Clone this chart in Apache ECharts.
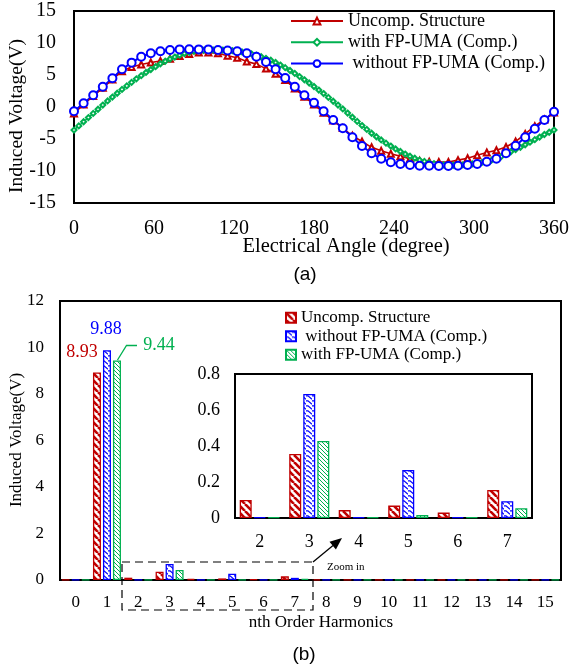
<!DOCTYPE html>
<html>
<head>
<meta charset="utf-8">
<script src="https://cdn.jsdelivr.net/npm/echarts@6/dist/echarts.min.js"></script>
<style>
  html, body { margin: 0; padding: 0; background: #fff; }
  #chart { width: 572px; height: 665px; }
</style>
</head>
<body>
<div id="chart"></div>
<script>
// ---- (a) induced voltage waveforms ----
// coarse curves sampled every 7.2 degrees, the fine one every 3.6 degrees
const coarseAngles = Array.from({ length: 51 }, (_, i) => +(i * 7.2).toFixed(1));
const fineAngles = Array.from({ length: 101 }, (_, i) => +(i * 3.6).toFixed(1));

const uncompWave = [
  -1.0, 0.4, 1.7, 3.0, 4.3, 5.6, 6.25, 6.65, 6.95, 7.2, 7.55, 7.95, 8.3,
  8.5, 8.5, 8.4, 8.0, 7.7, 7.1, 6.7, 6.0, 5.2, 4.2, 2.9, 1.6, 0.4,
  -0.9, -2.1, -3.3, -4.5, -5.4, -6.3, -6.85, -7.3, -7.7, -8.1, -8.4, -8.55,
  -8.6, -8.6, -8.3, -8.0, -7.55, -7.1, -6.75, -6.25, -5.4, -4.2, -3.0, -1.95, -0.85
];

const withoutUmaWave = [
  -0.67, 0.58, 1.83, 3.17, 4.48, 5.89, 6.93, 7.86, 8.39, 8.7, 8.9, 9.0, 9.02,
  9.0, 9.0, 8.92, 8.82, 8.7, 8.4, 7.86, 7.03, 5.89, 4.53, 3.17, 1.83, 0.65,
  -0.67, -2.03, -3.33, -4.73, -6.09, -7.23, -8.08, -8.64, -8.91, -9.06, -9.17, -9.18,
  -9.2, -9.2, -9.17, -9.06, -8.9, -8.55, -8.08, -7.23, -6.05, -4.73, -3.39, -2.03, -0.73
];

const withUmaWave = [
  -3.6, -2.95, -2.3, -1.65, -1.0, -0.35, 0.3, 0.95, 1.55, 2.15,
  2.75, 3.3, 3.85, 4.4, 4.9, 5.4, 5.85, 6.3, 6.75, 7.15,
  7.5, 7.8, 8.1, 8.35, 8.55, 8.7, 8.8, 8.85, 8.9, 8.9,
  8.9, 8.9, 8.85, 8.8, 8.7, 8.6, 8.45, 8.3, 8.1, 7.85,
  7.6, 7.3, 6.95, 6.55, 6.15, 5.7, 5.25, 4.75, 4.25, 3.75,
  3.2, 2.65, 2.1, 1.5, 0.9, 0.3, -0.3, -0.95, -1.6, -2.25,
  -2.9, -3.5, -4.1, -4.65, -5.15, -5.65, -6.1, -6.55, -6.95, -7.35,
  -7.7, -8.0, -8.3, -8.5, -8.7, -8.85, -8.95, -9.05, -9.1, -9.1,
  -9.1, -9.05, -9.0, -8.9, -8.8, -8.65, -8.45, -8.3, -8.05, -7.75,
  -7.4, -7.0, -6.65, -6.3, -5.9, -5.5, -5.1, -4.7, -4.3, -3.95,
  -3.6
];

const angleTicks = [0, 60, 120, 180, 240, 300, 360];

// ---- (b) harmonic spectrum ----
const harmonics = ['0','1','2','3','4','5','6','7','8','9','10','11','12','13','14','15'];
const uncompHarm  = [0.01, 8.93, 0.10, 0.356, 0.044, 0.069, 0.03, 0.156, 0.01, 0.01, 0.01, 0.01, 0.01, 0.01, 0.01, 0.01];
const withoutHarm = [0.01, 9.88, 0.004, 0.689, 0.004, 0.267, 0.004, 0.093, 0.01, 0.01, 0.01, 0.01, 0.01, 0.01, 0.01, 0.01];
const withHarm    = [0.01, 9.44, 0.004, 0.428, 0.004, 0.017, 0.004, 0.054, 0.01, 0.01, 0.01, 0.01, 0.01, 0.01, 0.01, 0.01];
const zoomFrom = 2, zoomTo = 8; // harmonics 2..7 shown in the inset

const RED = '#C00000', GREEN = '#00B050', BLUE = '#0000FF';
const SERIF = '"Liberation Serif", "Times New Roman", serif';
const SANS = '"Liberation Sans", Arial, sans-serif';

const NAMES = ['Uncomp. Structure', 'with FP-UMA (Comp.)', ' without FP-UMA (Comp.)'];
const BAR = 'bar:';

function pairs(xs, ys) { return xs.map((x, i) => [x, ys[i]]); }

// hatch fills for the bars
function diagPattern(color, size, width) {
  const c = document.createElement('canvas');
  c.width = c.height = size;
  const g = c.getContext('2d');
  g.fillStyle = '#fff'; g.fillRect(0, 0, size, size);
  g.strokeStyle = color; g.lineWidth = width;
  for (let k = -1; k <= 1; k++) {
    g.beginPath(); g.moveTo(k * size, 0); g.lineTo(k * size + size, size); g.stroke();
  }
  return { image: c, repeat: 'repeat' };
}
function zigzagPattern(color) {
  const w = 6, h = 5;
  const c = document.createElement('canvas');
  c.width = w; c.height = h;
  const g = c.getContext('2d');
  g.fillStyle = '#fff'; g.fillRect(0, 0, w, h);
  g.strokeStyle = color; g.lineWidth = 1.2;
  g.beginPath();
  g.moveTo(0, 0.8); g.lineTo(2, 0.8); g.lineTo(6, 4.2);
  g.stroke();
  g.beginPath(); g.moveTo(-2, 0.8); g.lineTo(0, 0.8); g.stroke();
  return { image: c, repeat: 'repeat' };
}
const redFill = diagPattern(RED, 7, 2.6);
const blueFill = zigzagPattern(BLUE);
const greenFill = diagPattern(GREEN, 4, 1);

const axisLine = { show: true, onZero: false, lineStyle: { color: '#000', width: 2 } };
const tickLabel = (size, margin) => ({ fontFamily: SERIF, fontSize: size, color: '#000', margin });

const chart = echarts.init(document.getElementById('chart'), null, { renderer: 'canvas' });

function barLabel(value, color, offset) {
  return {
    value,
    label: { show: true, position: 'top', offset, formatter: '{c}', color,
             fontFamily: SERIF, fontSize: 18 }
  };
}

const mainUncomp = uncompHarm.map((v, i) => i === 1 ? barLabel(v, RED, [-15, -6]) : v);
const mainWithout = withoutHarm.map((v, i) => i === 1 ? barLabel(v, BLUE, [-1, -7]) : v);
const mainWith = withHarm.map((v, i) => i === 1 ? barLabel(v, GREEN, [42, -1]) : v);

const option = {
  animation: false,
  backgroundColor: '#fff',
  grid: [
    { left: 74, top: 11, width: 481, height: 192, show: true, borderColor: '#000', borderWidth: 2, containLabel: false },
    { left: 60, top: 301, width: 501, height: 279, show: true, borderColor: '#000', borderWidth: 2, containLabel: false },
    { left: 235, top: 374, width: 297, height: 144, show: true, borderColor: '#000', borderWidth: 2,
      backgroundColor: '#fff', containLabel: false, z: 3 }
  ],
  xAxis: [
    { gridIndex: 0, type: 'value', min: angleTicks[0], max: angleTicks[angleTicks.length - 1], interval: 60,
      axisLine, axisTick: { show: false }, splitLine: { show: false }, axisLabel: tickLabel(20, 16) },
    { gridIndex: 1, type: 'category', data: harmonics,
      axisLine, axisTick: { show: false }, splitLine: { show: false }, axisLabel: tickLabel(17, 14) },
    { gridIndex: 2, type: 'category', data: harmonics.slice(zoomFrom, zoomTo), z: 3,
      axisLine, axisTick: { show: false }, splitLine: { show: false }, axisLabel: tickLabel(18, 15) }
  ],
  yAxis: [
    { gridIndex: 0, type: 'value', min: -15, max: 15, interval: 5,
      axisLine, axisTick: { show: false }, splitLine: { show: false }, axisLabel: tickLabel(20, 18) },
    { gridIndex: 1, type: 'value', min: 0, max: 12, interval: 2,
      axisLine, axisTick: { show: false }, splitLine: { show: false }, axisLabel: tickLabel(17, 16) },
    { gridIndex: 2, type: 'value', min: 0, max: 0.8, interval: 0.2, z: 3,
      axisLine, axisTick: { show: false }, splitLine: { show: false }, axisLabel: tickLabel(18, 15) }
  ],
  legend: [
    { orient: 'vertical', left: 290, top: 12, padding: 0, itemWidth: 52, itemHeight: 8.5, itemGap: 3.3,
      data: NAMES, textStyle: { fontFamily: SERIF, fontSize: 18, color: '#000', lineHeight: 18 } },
    { orient: 'vertical', left: 285, top: 309, padding: 0, itemWidth: 10, itemHeight: 10, itemGap: 1,
      icon: 'rect',
      data: [BAR + NAMES[0], BAR + NAMES[2], BAR + NAMES[1]],
      formatter: n => n.slice(BAR.length),
      textStyle: { fontFamily: SERIF, fontSize: 17, color: '#000', lineHeight: 17.5 } }
  ],
  series: [
    { type: 'line', name: NAMES[0], xAxisIndex: 0, yAxisIndex: 0, data: pairs(coarseAngles, uncompWave),
      symbol: 'emptyTriangle', symbolSize: 6, lineStyle: { color: RED, width: 1.6 },
      itemStyle: { color: RED, borderWidth: 1.2 } },
    { type: 'line', name: NAMES[1], xAxisIndex: 0, yAxisIndex: 0, data: pairs(fineAngles, withUmaWave),
      symbol: 'emptyDiamond', symbolSize: 5, lineStyle: { color: GREEN, width: 1.5 },
      itemStyle: { color: GREEN, borderWidth: 1.1 } },
    { type: 'line', name: NAMES[2], xAxisIndex: 0, yAxisIndex: 0, data: pairs(coarseAngles, withoutUmaWave),
      symbol: 'emptyCircle', symbolSize: 8, lineStyle: { color: BLUE, width: 2 },
      itemStyle: { color: BLUE, borderWidth: 2 } },

    { type: 'bar', name: BAR + NAMES[0], xAxisIndex: 1, yAxisIndex: 1, data: mainUncomp,
      barWidth: 8, barGap: '25%', itemStyle: { color: redFill, borderColor: RED, borderWidth: 1.3 } },
    { type: 'bar', name: BAR + NAMES[2], xAxisIndex: 1, yAxisIndex: 1, data: mainWithout,
      barWidth: 8, barGap: '25%', itemStyle: { color: blueFill, borderColor: BLUE, borderWidth: 1.3 } },
    { type: 'bar', name: BAR + NAMES[1], xAxisIndex: 1, yAxisIndex: 1, data: mainWith,
      barWidth: 8, barGap: '25%', itemStyle: { color: greenFill, borderColor: GREEN, borderWidth: 1.3 } },

    { type: 'bar', name: BAR + NAMES[0], xAxisIndex: 2, yAxisIndex: 2, z: 4,
      data: uncompHarm.slice(zoomFrom, zoomTo),
      barWidth: 12, barGap: '17%', itemStyle: { color: redFill, borderColor: RED, borderWidth: 1.3 } },
    { type: 'bar', name: BAR + NAMES[2], xAxisIndex: 2, yAxisIndex: 2, z: 4,
      data: withoutHarm.slice(zoomFrom, zoomTo),
      barWidth: 12, barGap: '17%', itemStyle: { color: blueFill, borderColor: BLUE, borderWidth: 1.3 } },
    { type: 'bar', name: BAR + NAMES[1], xAxisIndex: 2, yAxisIndex: 2, z: 4,
      data: withHarm.slice(zoomFrom, zoomTo),
      barWidth: 12, barGap: '17%', itemStyle: { color: greenFill, borderColor: GREEN, borderWidth: 1.3 } }
  ],
  graphic: [
    // axis titles and panel captions
    { type: 'text', x: 346, y: 247, style: { text: 'Electrical Angle (degree)', font: '20.5px ' + SERIF,
      fill: '#000', align: 'center', verticalAlign: 'middle' } },
    { type: 'text', x: 17, y: 116, rotation: Math.PI / 2, style: { text: 'Induced Voltage(V)', font: '19.5px ' + SERIF,
      fill: '#000', align: 'center', verticalAlign: 'middle' } },
    { type: 'text', x: 305, y: 275, style: { text: '(a)', font: '19px ' + SANS,
      fill: '#000', align: 'center', verticalAlign: 'middle' } },
    { type: 'text', x: 321, y: 623, style: { text: 'nth Order Harmonics', font: '17px ' + SERIF,
      fill: '#000', align: 'center', verticalAlign: 'middle' } },
    { type: 'text', x: 17, y: 440, rotation: Math.PI / 2, style: { text: 'Induced Voltage(V)', font: '17px ' + SERIF,
      fill: '#000', align: 'center', verticalAlign: 'middle' } },
    { type: 'text', x: 304, y: 655, style: { text: '(b)', font: '19px ' + SANS,
      fill: '#000', align: 'center', verticalAlign: 'middle' } },
    // leader for the 9.44 label
    { type: 'polyline', shape: { points: [[117.5, 360], [126.5, 345.5], [137, 345.5]] },
      style: { stroke: GREEN, lineWidth: 1.3, fill: null } },
    // zoom region marker
    { type: 'rect', shape: { x: 122, y: 562, width: 191, height: 48 },
      style: { fill: null, stroke: '#000', lineWidth: 1.2, lineDash: [8, 5] }, z: 10 },
    { type: 'line', shape: { x1: 313, y1: 562, x2: 333, y2: 545.5 },
      style: { stroke: '#000', lineWidth: 1.3 }, z: 10 },
    { type: 'polygon', shape: { points: [[342, 538], [335.9, 549.6], [329.5, 541.8]] },
      style: { fill: '#000' }, z: 10 },
    { type: 'text', x: 327, y: 567, style: { text: 'Zoom in', font: '11px ' + SERIF,
      fill: '#000', align: 'left', verticalAlign: 'middle' }, z: 10 }
  ]
};

chart.setOption(option);
</script>
</body>
</html>
